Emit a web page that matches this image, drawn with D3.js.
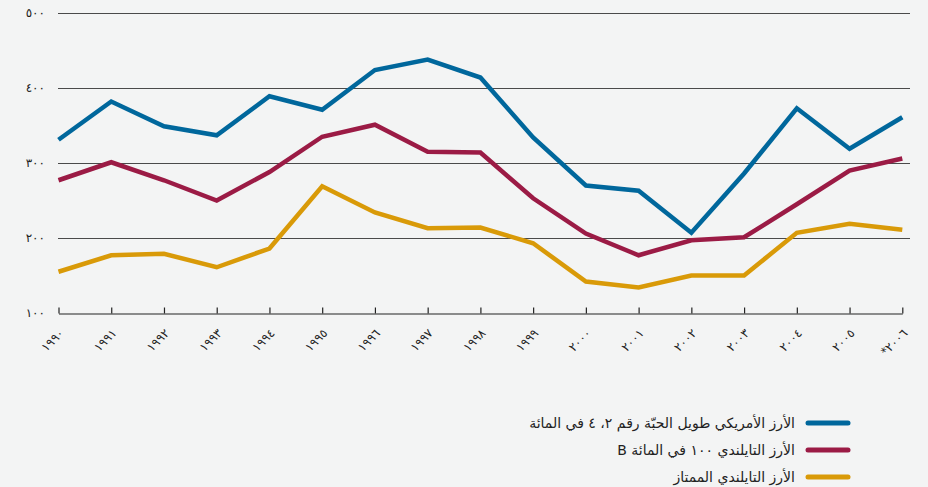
<!DOCTYPE html>
<html>
<head>
<meta charset="utf-8">
<script src="https://cdn.jsdelivr.net/npm/d3@7"></script>
<style>
  body { margin: 0; background: #f3f4f4; }
  svg { display: block; font-family: "DejaVu Sans", "Noto Sans", sans-serif; }
</style>
</head>
<body>
<svg id="chart" width="928" height="487"></svg>
<script>
/** Years on the x axis and their Arabic labels */
var years = [1990, 1991, 1992, 1993, 1994, 1995, 1996, 1997, 1998, 1999, 2000, 2001, 2002, 2003, 2004, 2005, 2006];
var yearLabels = ['١٩٩٠', '١٩٩١', '١٩٩٢', '١٩٩٣', '١٩٩٤', '١٩٩٥', '١٩٩٦', '١٩٩٧', '١٩٩٨', '١٩٩٩',
                  '٢٠٠٠', '٢٠٠١', '٢٠٠٢', '٢٠٠٣', '٢٠٠٤', '٢٠٠٥', '*٢٠٠٦'];

/** y ticks */
var yTicks = [100, 200, 300, 400, 500];
var yTickLabels = ['١٠٠', '٢٠٠', '٣٠٠', '٤٠٠', '٥٠٠'];

/** series values */
var usLongGrain = [331, 382, 349, 337, 389, 371, 424, 438, 414, 334, 270, 263, 207, 286, 373, 319, 361];
var thai100B   = [277, 301, 277, 250, 288, 335, 351, 315, 314, 253, 206, 177, 197, 201, 245, 290, 306];
var thaiFragrant = [155, 177, 179, 161, 186, 269, 234, 213, 214, 193, 142, 134, 150, 150, 207, 219, 211];

var seriesNames = ['الأرز الأمريكي طويل الحبّة رقم ٢، ٤ في المائة',
                   'الأرز التايلندي ١٠٠ في المائة B',
                   'الأرز التايلندي الممتاز'];
var seriesColors = ['#00679c', '#9b1b45', '#d99a08'];

var svg = d3.select('#chart');

var x = d3.scaleLinear()
    .domain([0, years.length - 1])
    .range([58.5, 902.3]);

var y = d3.scaleLinear()
    .domain([100, 500])
    .range([313, 13]);

// gridlines
svg.append('g').selectAll('line')
  .data(yTicks.slice(1))
  .enter().append('line')
  .attr('x1', 58).attr('x2', 910)
  .attr('y1', function(d){ return y(d) + 0.5; })
  .attr('y2', function(d){ return y(d) + 0.5; })
  .attr('stroke', '#4a4a4a')
  .attr('stroke-width', 1);

// y labels
svg.append('g').selectAll('text')
  .data(yTicks)
  .enter().append('text')
  .attr('x', 45)
  .attr('y', function(d){ return y(d) + 4; })
  .attr('text-anchor', 'end')
  .attr('font-size', 12)
  .attr('letter-spacing', 3)
  .attr('fill', '#222')
  .text(function(d, i){ return yTickLabels[i]; });

// x axis
var xAxis = d3.axisTop(x)
    .tickValues(d3.range(years.length))
    .tickSize(6)
    .tickSizeOuter(0)
    .tickFormat('');

var gx = svg.append('g')
  .attr('transform', 'translate(0,' + (y(100) + 0.5) + ')')
  .call(xAxis);
gx.select('.domain').attr('stroke', '#222').attr('stroke-width', 1.2);
gx.selectAll('.tick line').attr('stroke', '#222').attr('stroke-width', 1.2);

svg.append('g').selectAll('text')
  .data(years)
  .enter().append('text')
  .attr('transform', function(d, i){
    return 'translate(' + (x(i) + 6) + ',' + 334 + ') rotate(-45)';
  })
  .attr('text-anchor', 'end')
  .attr('font-size', 12)
  .attr('letter-spacing', 2)
  .attr('fill', '#222')
  .text(function(d, i){ return yearLabels[i]; });

// lines
var line = d3.line()
    .x(function(d, i){ return x(i); })
    .y(function(d){ return y(d); });

var allSeries = [usLongGrain, thai100B, thaiFragrant];

svg.append('g').selectAll('path')
  .data(allSeries)
  .enter().append('path')
  .attr('d', line)
  .attr('fill', 'none')
  .attr('stroke', function(d, i){ return seriesColors[i]; })
  .attr('stroke-width', 4.5)
  .attr('stroke-linejoin', 'miter');

// legend
var legend = svg.append('g').selectAll('g')
  .data(seriesNames)
  .enter().append('g')
  .attr('transform', function(d, i){ return 'translate(0,' + (423 + i * 27) + ')'; });

legend.append('line')
  .attr('x1', 808).attr('x2', 848)
  .attr('y1', 0).attr('y2', 0)
  .attr('stroke', function(d, i){ return seriesColors[i]; })
  .attr('stroke-width', 5)
  .attr('stroke-linecap', 'round');

legend.append('text')
  .attr('x', 795)
  .attr('y', 5)
  .attr('direction', 'rtl')
  .attr('text-anchor', 'start')
  .attr('font-size', 14)
  .attr('fill', '#222')
  .text(function(d){ return d; });
</script>
</body>
</html>
